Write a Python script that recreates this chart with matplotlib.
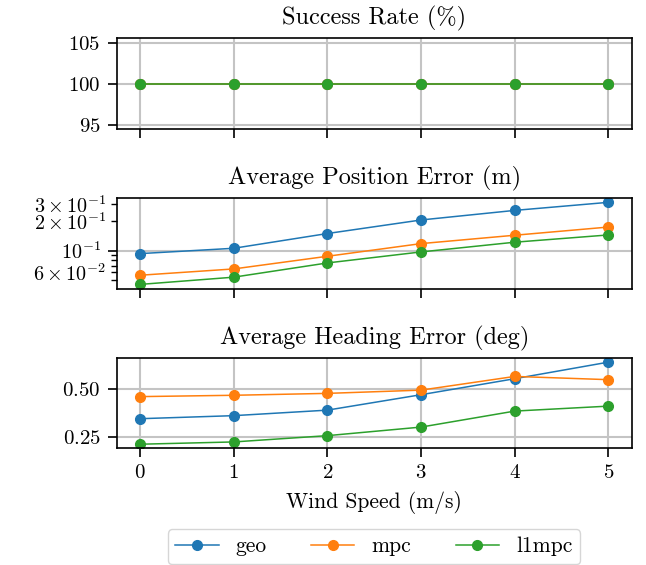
import matplotlib
matplotlib.use("Agg")
import matplotlib.pyplot as plt
from matplotlib.ticker import MultipleLocator

plt.rcParams['font.family'] = ['cmr10', 'DejaVu Serif']
plt.rcParams['mathtext.fontset'] = 'cm'
plt.rcParams['axes.formatter.use_mathtext'] = True
plt.rcParams['font.size'] = 15
plt.rcParams['axes.unicode_minus'] = False
plt.rcParams['axes.linewidth'] = 1.2
for ax_ in ('xtick', 'ytick'):
    plt.rcParams[f'{ax_}.major.size'] = 6.5
    plt.rcParams[f'{ax_}.major.width'] = 1.2
    plt.rcParams[f'{ax_}.minor.size'] = 4
    plt.rcParams[f'{ax_}.minor.width'] = 1.0
    plt.rcParams[f'{ax_}.labelsize'] = 15
    plt.rcParams[f'{ax_}.major.pad'] = 5

wind_speed = [0, 1, 2, 3, 4, 5]
methods = ["geo", "mpc", "l1mpc"]

success_geo = [100, 100, 100, 100, 100, 100]
success_mpc = [100, 100, 100, 100, 100, 100]
success_l1mpc = [100, 100, 100, 100, 100, 100]

pos_geo = [0.093, 0.1056, 0.150, 0.207, 0.260, 0.315]
pos_mpc = [0.0556, 0.0646, 0.0873, 0.118, 0.144, 0.175]
pos_l1mpc = [0.0447, 0.0531, 0.0745, 0.0968, 0.122, 0.145]

head_geo = [0.346, 0.362, 0.391, 0.472, 0.556, 0.643]
head_mpc = [0.462, 0.469, 0.479, 0.496, 0.568, 0.551]
head_l1mpc = [0.212, 0.224, 0.257, 0.302, 0.386, 0.412]

titles = ["Success Rate (%)", "Average Position Error (m)", "Average Heading Error (deg)"]
xlabel = "Wind Speed (m/s)"

fig, axes = plt.subplots(3, 1, figsize=(6.46, 5.65), dpi=100, sharex=True)
fig.subplots_adjust(left=0.1806, right=0.978, top=0.932, bottom=0.2065, hspace=0.77)

data = [
    [success_geo, success_mpc, success_l1mpc],
    [pos_geo, pos_mpc, pos_l1mpc],
    [head_geo, head_mpc, head_l1mpc],
]

for ax, title, series in zip(axes, titles, data):
    for name, vals in zip(methods, series):
        ax.plot(wind_speed, vals, marker='o', linewidth=1.1, markersize=7, label=name)
    ax.set_title(title, fontsize=17.5, pad=10)
    ax.grid(True, color='#c4c4c4', linewidth=1.5)
    ax.set_axisbelow(True)

axes[1].set_yscale('log')
axes[1].tick_params(axis='y', which='both', labelsize=14.5)
axes[2].yaxis.set_major_locator(MultipleLocator(0.25))
axes[2].set_xlabel(xlabel, fontsize=15.5, labelpad=6)

handles, labels = axes[0].get_legend_handles_labels()
fig.legend(handles, labels, loc='lower left', ncol=3, mode='expand',
           bbox_to_anchor=(0.26, 0.002, 0.638, 0.06), borderaxespad=0.0,
           fontsize=15.5, edgecolor='#cccccc', handlelength=2.0,
           borderpad=0.35)

fig.savefig("out.png", dpi=100)
